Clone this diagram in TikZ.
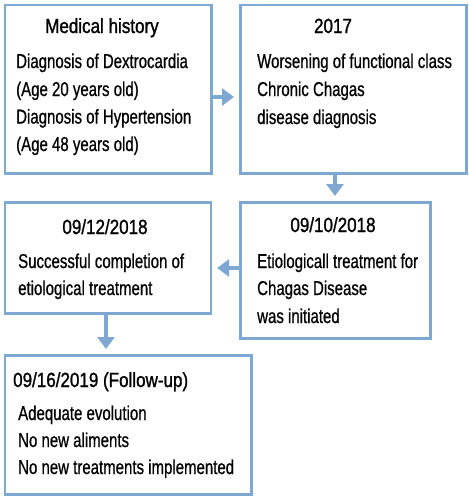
\documentclass[tikz,border=0pt]{standalone}
\usepackage{fontspec}
\setmainfont[FakeStretch=0.75,FakeBold=0.7]{Liberation Sans}
\newfontfamily\ttlfont[FakeStretch=0.83,FakeBold=1.2]{Liberation Sans}
\usetikzlibrary{arrows.meta}
\definecolor{bblue}{HTML}{7EA8D2}
\tikzset{
  box/.style={draw=bblue, line width=2.6pt, fill=white, inner sep=0pt, anchor=north west},
  txt/.style={inner sep=0pt, anchor=base west, font=\fontsize{20}{24}\selectfont, text=black},
  ttl/.style={inner sep=0pt, anchor=base, font=\ttlfont\fontsize{20.5}{24}\selectfont, text=black},
  ttlw/.style={ttl, anchor=base west},
  arr/.style={draw=bblue, line width=4.5pt, -{Triangle[width=17pt,length=12pt]}}
}
\begin{document}
\begin{tikzpicture}[x=1pt,y=-1pt]
\useasboundingbox (0,0) rectangle (469,496);
% boxes
\node[box, minimum width=206.5pt, minimum height=168.5pt] (b1) at (3.5,3.5) {};
\node[box, minimum width=226pt, minimum height=168.5pt] (b2) at (239,3.5) {};
\node[box, minimum width=190pt, minimum height=136pt] (b3) at (239,201) {};
\node[box, minimum width=206pt, minimum height=111pt] (b4) at (3.5,201) {};
\node[box, minimum width=246.5pt, minimum height=139pt] (b5) at (3.5,354) {};
% box 1
\node[ttl] (t1) at (102,33) {Medical history};
\node[txt] (l1a) at (16,68) {Diagnosis of Dextrocardia};
\node[txt] (l1b) at (16,96) {(Age 20 years old)};
\node[txt] (l1c) at (16,123.5) {Diagnosis of Hypertension};
\node[txt] (l1d) at (16,151) {(Age 48 years old)};
% box 2
\node[ttl] (t2) at (333,33) {2017};
\node[txt] (l2a) at (257,68) {Worsening of functional class};
\node[txt] (l2b) at (257,96) {Chronic Chagas};
\node[txt] (l2c) at (257,124) {disease diagnosis};
% box 3
\node[ttl] (t3) at (333,232) {09/10/2018};
\node[txt] (l3a) at (257,268) {Etiologicall treatment for};
\node[txt] (l3b) at (257,295) {Chagas Disease};
\node[txt] (l3c) at (257,323) {was initiated};
% box 4
\node[ttl] (t4) at (105,234) {09/12/2018};
\node[txt] (l4a) at (18,268) {Successful completion of};
\node[txt] (l4b) at (18,295) {etiological treatment};
% box 5
\node[ttlw] (t5) at (13,387) {09/16/2019 (Follow-up)};
\node[txt] (l5a) at (18,420) {Adequate evolution};
\node[txt] (l5b) at (18,447) {No new aliments};
\node[txt] (l5c) at (18,474) {No new treatments implemented};
% arrows
\draw[arr, shorten >=5pt] (b1.east |- 0,97) -- (b2.west |- 0,97);
\draw[arr, shorten >=5pt] (b2.south -| 335,0) -- (b3.north -| 335,0);
\draw[arr, shorten >=5pt] (b3.west |- 0,268) -- (b4.east |- 0,268);
\draw[arr, shorten >=5pt] (b4.south -| 106,0) -- (b5.north -| 106,0);
\end{tikzpicture}
\end{document}
